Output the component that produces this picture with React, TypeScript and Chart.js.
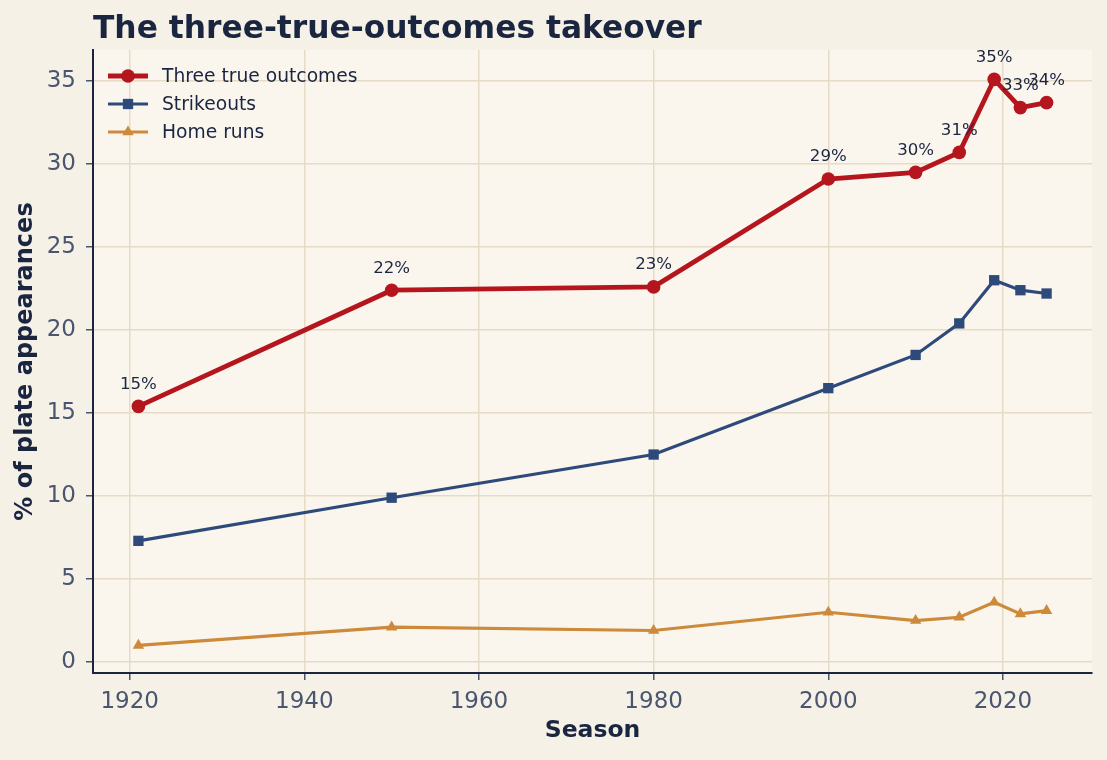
import React, { useEffect, useRef } from "react";
import { Chart, registerables } from "chart.js";

Chart.register(...registerables);

const seasons = [1921, 1950, 1980, 2000, 2010, 2015, 2019, 2022, 2025];
const threeTrueOutcomes = [15.4, 22.4, 22.6, 29.1, 29.5, 30.7, 35.1, 33.4, 33.7];
const strikeouts = [7.3, 9.9, 12.5, 16.5, 18.5, 20.4, 23.0, 22.4, 22.2];
const homeRuns = [1.0, 2.1, 1.9, 3.0, 2.5, 2.7, 3.6, 2.9, 3.1];

const TITLE = "The three-true-outcomes takeover";
const X_TITLE = "Season";
const Y_TITLE = "% of plate appearances";

const NAVY = "#1a2540";
const TICK = "#4a5570";
const GRID = "#e6dcc6";
const FIG_BG = "#f5f1e7";
const AX_BG = "#faf6ee";
const RED = "#b5161e";
const BLUE = "#2e4a7a";
const ORANGE = "#cc8a3a";
const FONT = "'DejaVu Sans', sans-serif";

const W = 1107;
const H = 760;
const AREA = { left: 93, right: 1092, top: 50, bottom: 673 };

export default function App() {
  const ref = useRef<HTMLCanvasElement | null>(null);

  useEffect(() => {
    document.body.style.margin = "0";
    const canvas = ref.current;
    if (!canvas) return;

    const series = [
      { label: "Three true outcomes", data: threeTrueOutcomes, color: RED, width: 4.8, style: "circle", radius: 6.8 },
      { label: "Strikeouts", data: strikeouts, color: BLUE, width: 3.2, style: "rect", radius: 7.3 },
      { label: "Home runs", data: homeRuns, color: ORANGE, width: 3.2, style: "triangle", radius: 6.6 },
    ];

    const bgPlugin = {
      id: "bg",
      beforeDraw(chart: any) {
        const { ctx, chartArea } = chart;
        ctx.save();
        ctx.fillStyle = FIG_BG;
        ctx.fillRect(0, 0, chart.width, chart.height);
        ctx.fillStyle = AX_BG;
        ctx.fillRect(chartArea.left, chartArea.top, chartArea.right - chartArea.left, chartArea.bottom - chartArea.top);
        ctx.restore();
      },
    };

    const overlayPlugin = {
      id: "overlay",
      afterDraw(chart: any) {
        const { ctx, chartArea } = chart;
        ctx.save();
        // title
        ctx.fillStyle = NAVY;
        ctx.font = `bold 31.3px ${FONT}`;
        ctx.textAlign = "left";
        ctx.textBaseline = "alphabetic";
        ctx.fillText(TITLE, chartArea.left, 38);

        // point labels for the first series
        const meta = chart.getDatasetMeta(0);
        ctx.font = `16.6px ${FONT}`;
        ctx.textAlign = "center";
        ctx.textBaseline = "middle";
        ctx.fillStyle = NAVY;
        meta.data.forEach((pt: any, i: number) => {
          ctx.fillText(`${Math.round(threeTrueOutcomes[i])}%`, pt.x, pt.y - 22);
        });

        // legend
        const lx = chartArea.left + 15;
        let ly = chartArea.top + 26;
        ctx.font = `18.7px ${FONT}`;
        ctx.textAlign = "left";
        series.forEach((s) => {
          ctx.strokeStyle = s.color;
          ctx.lineWidth = s.width;
          ctx.beginPath();
          ctx.moveTo(lx, ly);
          ctx.lineTo(lx + 40, ly);
          ctx.stroke();
          ctx.fillStyle = s.color;
          ctx.beginPath();
          const cx = lx + 20;
          if (s.style === "circle") {
            ctx.arc(cx, ly, s.radius, 0, Math.PI * 2);
          } else if (s.style === "rect") {
            const h = s.radius * Math.SQRT1_2;
            ctx.rect(cx - h, ly - h, 2 * h, 2 * h);
          } else {
            const r = s.radius;
            ctx.moveTo(cx, ly - r);
            ctx.lineTo(cx + r * Math.sin(Math.PI / 3), ly + r / 2);
            ctx.lineTo(cx - r * Math.sin(Math.PI / 3), ly + r / 2);
            ctx.closePath();
          }
          ctx.fill();
          ctx.fillStyle = NAVY;
          ctx.fillText(s.label, lx + 54, ly + 1);
          ly += 28;
        });
        ctx.restore();
      },
    };

    const chart = new Chart(canvas, {
      type: "line",
      data: {
        datasets: series.map((s) => ({
          label: s.label,
          data: s.data.map((v, i) => ({ x: seasons[i], y: v })),
          borderColor: s.color,
          backgroundColor: s.color,
          borderWidth: s.width,
          pointStyle: s.style as any,
          pointRadius: s.radius,
          pointHoverRadius: s.radius,
          pointBackgroundColor: s.color,
          pointBorderWidth: 0,
          tension: 0,
          fill: false,
        })),
      },
      options: {
        responsive: false,
        animation: false,
        events: [],
        layout: { padding: { top: AREA.top, right: W - AREA.right, left: 0, bottom: 0 } },
        plugins: {
          legend: { display: false },
          title: { display: false },
          tooltip: { enabled: false },
        },
        scales: {
          x: {
            type: "linear",
            min: 1915.8,
            max: 2030.2,
            afterFit(scale: any) {
              scale.height = H - AREA.bottom;
            },
            ticks: {
              stepSize: 20,
              includeBounds: false,
              color: TICK,
              font: { family: FONT, size: 23 },
              padding: 8,
              maxRotation: 0,
              callback: (v: any) => String(v),
            },
            grid: { color: GRID, lineWidth: 1.5, tickColor: TICK, tickLength: 7, tickWidth: 1.5 },
            border: { display: true, color: NAVY, width: 2 },
            title: {
              display: true,
              text: X_TITLE,
              color: NAVY,
              font: { family: FONT, size: 23.5, weight: "bold" },
              padding: { top: 0, bottom: 15 },
            },
          },
          y: {
            type: "linear",
            min: -0.66,
            max: 36.87,
            afterFit(scale: any) {
              scale.width = AREA.left;
            },
            ticks: {
              stepSize: 5,
              includeBounds: false,
              color: TICK,
              font: { family: FONT, size: 23 },
              padding: 10,
              callback: (v: any) => String(v),
            },
            grid: { color: GRID, lineWidth: 1.5, tickColor: TICK, tickLength: 7, tickWidth: 1.5 },
            border: { display: true, color: NAVY, width: 2 },
            title: {
              display: true,
              text: Y_TITLE,
              color: NAVY,
              font: { family: FONT, size: 24, weight: "bold" },
              padding: { top: 11, bottom: 0 },
            },
          },
        },
      },
      plugins: [bgPlugin, overlayPlugin],
    });

    return () => chart.destroy();
  }, []);

  return (
    <div style={{ position: "fixed", left: 0, top: 0, width: W, height: H, background: FIG_BG }}>
      <canvas ref={ref} width={W} height={H} style={{ display: "block", width: W, height: H }} />
    </div>
  );
}
